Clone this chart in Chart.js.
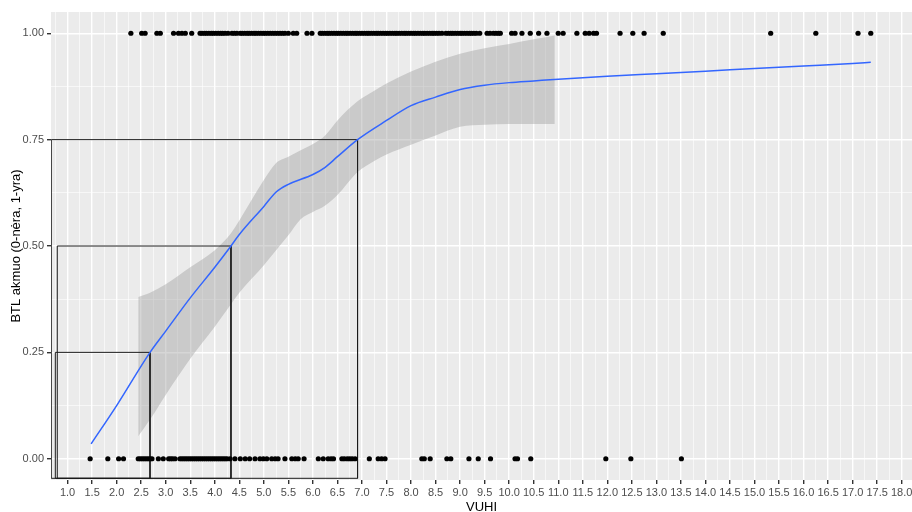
<!DOCTYPE html>
<html>
<head>
<meta charset="utf-8">
<script src="https://cdn.jsdelivr.net/npm/chart.js"></script>
<style>
  body { margin: 0; background: #ffffff; }
  #wrap { width: 912px; height: 512px; }
</style>
</head>
<body>
<div id="wrap"><canvas id="myChart" width="912" height="512"></canvas></div>
<script>
// VUHI values of the cases, split by outcome (BTL akmuo = 1 / = 0)
var vuhiYes = [2.29, 2.51, 2.58, 2.82, 2.89, 3.16, 3.26, 3.33, 3.40, 3.53,
  3.70, 3.74, 3.79, 3.83, 3.88, 3.93, 3.97, 4.02, 4.07, 4.12, 4.16, 4.21, 4.27,
  4.35, 4.40, 4.45, 4.52, 4.56, 4.61, 4.66, 4.70, 4.75, 4.80, 4.84, 4.89, 4.94,
  4.99, 5.03, 5.08, 5.13, 5.18, 5.23, 5.28, 5.33, 5.38, 5.43, 5.50, 5.60, 5.67,
  5.88, 5.98, 6.15, 6.19, 6.24, 6.29, 6.33, 6.38, 6.43, 6.48, 6.52, 6.57, 6.62,
  6.67, 6.71, 6.76, 6.81, 6.86, 6.90, 6.95, 7.00, 7.05, 7.10, 7.14, 7.19, 7.24,
  7.29, 7.33, 7.38, 7.43, 7.48, 7.52, 7.57, 7.62, 7.67, 7.71, 7.76, 7.81, 7.86,
  7.90, 7.95, 8.00, 8.05, 8.09, 8.14, 8.19, 8.24, 8.28, 8.33, 8.38, 8.43, 8.47,
  8.52, 8.57, 8.63, 8.71, 8.76, 8.81, 8.85, 8.90, 8.95, 9.00, 9.04, 9.09, 9.14,
  9.19, 9.23, 9.28, 9.33, 9.40, 9.55, 9.61, 9.68, 9.73, 9.78, 9.82,
  10.05, 10.12, 10.26, 10.43, 10.60, 10.77, 11.00, 11.10, 11.38, 11.55, 11.63,
  11.72, 11.78, 12.26, 12.52, 12.75, 13.14, 15.33, 16.25, 17.11, 17.37];

var vuhiNo = [1.46, 1.82, 2.04, 2.14, 2.44, 2.48, 2.52, 2.56, 2.60, 2.64, 2.68,
  2.72, 2.85, 2.95, 3.06, 3.10, 3.14, 3.19, 3.29, 3.33, 3.37, 3.41, 3.45, 3.49,
  3.53, 3.57, 3.61, 3.65, 3.69, 3.73, 3.77, 3.81, 3.85, 3.89, 3.93, 3.97, 4.01,
  4.05, 4.09, 4.13, 4.17, 4.21, 4.25, 4.31, 4.41, 4.52, 4.62, 4.71, 4.82, 4.92,
  4.99, 5.06, 5.16, 5.23, 5.29, 5.43, 5.57, 5.64, 5.70, 5.82, 6.11, 6.21, 6.31,
  6.37, 6.42, 6.59, 6.64, 6.70, 6.75, 6.80, 6.86, 7.15, 7.33, 7.40, 7.47, 8.22,
  8.27, 8.39, 8.73, 8.81, 9.18, 9.37, 9.62, 10.12, 10.17, 10.44, 11.97, 12.48,
  13.51];

// smoothed probability curve
var fitX = [1.48, 2.0, 2.68, 3.0, 3.5, 4.0, 4.33, 4.5, 5.0, 5.25, 5.5, 6.0, 6.25,
  6.5, 6.91, 7.5, 8.0, 8.5, 9.0, 9.5, 10.0, 10.5, 11.0, 12.0, 13.0, 14.0, 15.0,
  16.0, 17.0, 17.37];
var fitY = [0.035, 0.125, 0.25, 0.30, 0.378, 0.45, 0.50, 0.527, 0.593, 0.627,
  0.645, 0.668, 0.685, 0.71, 0.75, 0.795, 0.83, 0.85, 0.868, 0.878, 0.884, 0.888,
  0.892, 0.899, 0.905, 0.911, 0.917, 0.923, 0.929, 0.932];

// confidence band of the curve
var bandX = [2.44, 2.68, 3.0, 3.5, 4.0, 4.33, 4.5, 5.0, 5.25, 5.5, 5.75, 6.0,
  6.25, 6.5, 6.91, 7.25, 7.5, 8.0, 8.5, 9.0, 9.5, 10.0, 10.5, 10.93];
var bandHigh = [0.38, 0.39, 0.41, 0.45, 0.49, 0.53, 0.56, 0.655, 0.695, 0.71,
  0.725, 0.74, 0.76, 0.795, 0.84, 0.865, 0.882, 0.91, 0.933, 0.952, 0.965, 0.975,
  0.986, 0.995];
var bandLow = [0.053, 0.092, 0.15, 0.235, 0.31, 0.363, 0.39, 0.455, 0.49, 0.525,
  0.563, 0.58, 0.595, 0.62, 0.674, 0.70, 0.715, 0.738, 0.76, 0.78, 0.785, 0.787,
  0.787, 0.787];

// cut-off boxes: probability level and the VUHI where the curve reaches it
var cutLevel = [0.25, 0.50, 0.75];
var cutVuhi = [2.68, 4.33, 6.91];
var cutFrom = [0.75, 0.79, 0.668];

var xBreaks = [1.0, 1.5, 2.0, 2.5, 3.0, 3.5, 4.0, 4.5, 5.0, 5.5, 6.0, 6.5, 7.0,
  7.5, 8.0, 8.5, 9.0, 9.5, 10.0, 10.5, 11.0, 11.5, 12.0, 12.5, 13.0, 13.5, 14.0,
  14.5, 15.0, 15.5, 16.0, 16.5, 17.0, 17.5, 18.0];
var yBreaks = [0.00, 0.25, 0.50, 0.75, 1.00];

var X_MIN = 0.662, X_MAX = 18.21, Y_MIN = -0.05, Y_MAX = 1.05;
var FONT = "'Liberation Sans', Arial, sans-serif";

function pts(xs, ys) {
  return xs.map(function (x, i) { return { x: x, y: ys[i] }; });
}
function flat(xs, y) {
  return xs.map(function (x) { return { x: x, y: y }; });
}
function withMinor(breaks, lo, hi) {
  var step = breaks[1] - breaks[0];
  var all = [];
  var v = breaks[0] - step / 2;
  if (v > lo) all.push(v);
  breaks.forEach(function (b) {
    all.push(b);
    if (b + step / 2 < hi) all.push(b + step / 2);
  });
  return all;
}
function isMajor(breaks, v) {
  return breaks.some(function (b) { return Math.abs(b - v) < 1e-9; });
}

var boxes = cutLevel.map(function (lvl, i) {
  var bottom = -0.046;
  return {
    data: [
      { x: cutFrom[i], y: bottom }, { x: cutFrom[i], y: lvl },
      { x: cutVuhi[i], y: lvl }, { x: cutVuhi[i], y: bottom },
      { x: cutFrom[i], y: bottom }
    ],
    showLine: true,
    borderColor: '#1a1a1a',
    borderWidth: 1,
    pointRadius: 0,
    fill: false,
    tension: 0
  };
});

var panelBg = {
  id: 'panelBg',
  beforeDraw: function (chart) {
    var a = chart.chartArea, ctx = chart.ctx;
    ctx.save();
    ctx.fillStyle = '#EBEBEB';
    ctx.fillRect(a.left, a.top, a.right - a.left, a.bottom - a.top);
    ctx.restore();
  }
};

var datasets = [
  { data: flat(vuhiYes, 1), backgroundColor: '#000', borderWidth: 0, pointRadius: 2.6 },
  { data: flat(vuhiNo, 0), backgroundColor: '#000', borderWidth: 0, pointRadius: 2.6 },
  { data: pts(fitX, fitY), showLine: true, borderColor: '#3366FF', borderWidth: 1.5,
    pointRadius: 0, fill: false, cubicInterpolationMode: 'monotone' }
].concat(boxes).concat([
  { data: pts(bandX, bandHigh), showLine: true, borderWidth: 0, borderColor: 'rgba(0,0,0,0)',
    pointRadius: 0, fill: '+1', backgroundColor: 'rgba(153,153,153,0.4)',
    cubicInterpolationMode: 'monotone' },
  { data: pts(bandX, bandLow), showLine: true, borderWidth: 0, borderColor: 'rgba(0,0,0,0)',
    pointRadius: 0, fill: false, cubicInterpolationMode: 'monotone' }
]);

var btlChart = new Chart(document.getElementById('myChart'), {
  type: 'scatter',
  data: { datasets: datasets },
  plugins: [panelBg],
  options: {
    responsive: false,
    animation: false,
    layout: { autoPadding: false, padding: { top: 12, right: 0, bottom: 0, left: 0 } },
    plugins: { legend: { display: false }, tooltip: { enabled: false } },
    scales: {
      x: {
        type: 'linear',
        min: X_MIN,
        max: X_MAX,
        afterBuildTicks: function (scale) {
          scale.ticks = withMinor(xBreaks, X_MIN, X_MAX).map(function (v) { return { value: v }; });
        },
        afterFit: function (scale) {
          scale.height = 32;
          scale.paddingLeft = 0;
          scale.paddingRight = 0;
        },
        border: { display: false },
        grid: {
          color: function (c) { return isMajor(xBreaks, c.tick.value) ? '#FFFFFF' : 'rgba(255,255,255,0.75)'; },
          lineWidth: function (c) { return isMajor(xBreaks, c.tick.value) ? 1.4 : 0.8; },
          tickColor: function (c) { return isMajor(xBreaks, c.tick.value) ? '#333333' : 'rgba(0,0,0,0)'; },
          tickLength: 4,
          drawTicks: true
        },
        ticks: {
          autoSkip: false,
          maxRotation: 0,
          padding: 2,
          color: '#4D4D4D',
          font: { family: FONT, size: 11 },
          callback: function (v) { return isMajor(xBreaks, v) ? v.toFixed(1) : ''; }
        },
        title: {
          display: true,
          text: 'VUHI',
          color: '#000000',
          font: { family: FONT, size: 13 },
          padding: { top: 0, bottom: -3 }
        }
      },
      y: {
        type: 'linear',
        min: Y_MIN,
        max: Y_MAX,
        afterBuildTicks: function (scale) {
          scale.ticks = withMinor(yBreaks, Y_MIN, Y_MAX).map(function (v) { return { value: v }; });
        },
        afterFit: function (scale) {
          scale.width = 51;
          scale.paddingTop = 0;
          scale.paddingBottom = 0;
        },
        border: { display: false },
        grid: {
          color: function (c) { return isMajor(yBreaks, c.tick.value) ? '#FFFFFF' : 'rgba(255,255,255,0.75)'; },
          lineWidth: function (c) { return isMajor(yBreaks, c.tick.value) ? 1.4 : 0.8; },
          tickColor: function (c) { return isMajor(yBreaks, c.tick.value) ? '#333333' : 'rgba(0,0,0,0)'; },
          tickLength: 4,
          drawTicks: true
        },
        ticks: {
          autoSkip: false,
          padding: 3,
          color: '#4D4D4D',
          font: { family: FONT, size: 11 },
          callback: function (v) { return isMajor(yBreaks, v) ? v.toFixed(2) : ''; }
        },
        title: {
          display: true,
          text: 'BTL akmuo (0-nėra, 1-yra)',
          color: '#000000',
          font: { family: FONT, size: 13 },
          padding: { top: 9, bottom: 0 }
        }
      }
    }
  }
});
</script>
</body>
</html>
